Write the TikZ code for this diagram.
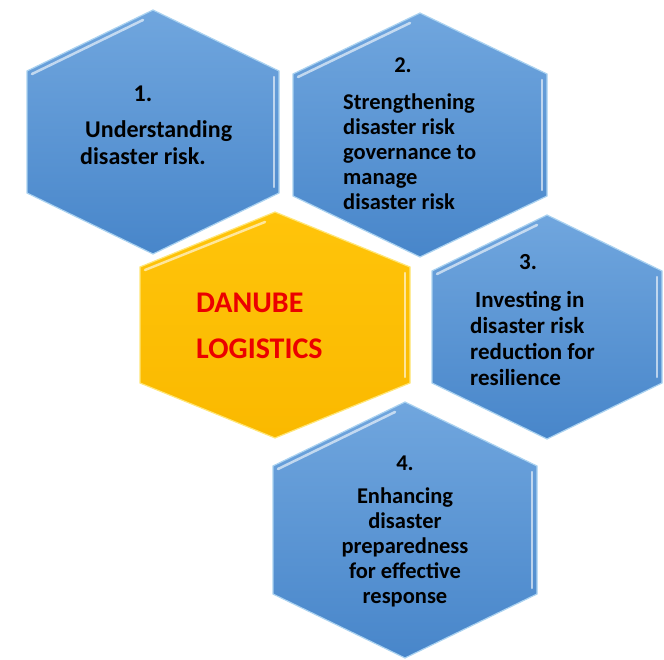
\documentclass[tikz,border=0pt]{standalone}
\usepackage{fontspec}
\setmainfont{Carlito}

\definecolor{cellTop}{RGB}{112,166,222}
\definecolor{cellBot}{RGB}{72,134,202}
\definecolor{cellEdge}{RGB}{170,210,240}
\definecolor{goldTop}{RGB}{255,196,10}
\definecolor{goldBot}{RGB}{250,185,0}
\definecolor{goldEdge}{RGB}{255,230,120}
\definecolor{brandRed}{RGB}{235,0,0}

% hexagon with pointed top: centre x, centre y, half width, half height, corner offset, style
\newcommand{\hexcell}[6]{%
  \draw[#6] (#1-#3,#2-#5) -- (#1,#2-#4) -- (#1+#3,#2-#5) -- (#1+#3,#2+#5)
    -- (#1,#2+#4) -- (#1-#3,#2+#5) -- cycle;
  \draw[shine] (#1-#3+5,#2-#5+3) -- (#1-10,#2-#4+10);
  \draw[shine] (#1+#3-5,#2-#5+6) -- (#1+#3-5,#2+#5-6);
}

\begin{document}
\begin{tikzpicture}[x=1pt,y=-1pt,
    blue cell/.style={top color=cellTop,bottom color=cellBot,draw=cellEdge,line width=1.2pt},
    gold cell/.style={top color=goldTop,bottom color=goldBot,draw=goldEdge,line width=1.2pt},
    shine/.style={draw=white,opacity=.6,line width=2.5pt,line cap=round},
    cell num/.style={font=\bfseries\fontsize{22.5}{25}\selectfont,inner sep=0pt,anchor=base},
    cell text/.style={font=\bfseries\fontsize{22.5}{25}\selectfont,align=left,inner sep=0pt,anchor=base west}]
    \useasboundingbox (0,0) rectangle (664,660);

    % cells
    \hexcell{153}{132}{126}{122}{61}{blue cell}
    \hexcell{420}{135}{127}{122}{61}{blue cell}
    \hexcell{547}{327}{115}{112}{56}{blue cell}
    \hexcell{405}{530}{132}{128}{64}{blue cell}
    \hexcell{275}{325}{135}{113}{58}{gold cell}

    % labels (placed at the baseline of their last line)
    \node[cell num,font=\bfseries\fontsize{24}{27}\selectfont] (num1) at (143,102) {1.};
    \node[cell text,font=\bfseries\fontsize{24}{27}\selectfont] (txt1) at (80,165)
        {\hspace*{5pt}Understanding\\disaster risk.};

    \node[cell num] (num2) at (403,73) {2.};
    \node[cell text] (txt2) at (343,210)
        {Strengthening\\disaster risk\\governance to\\manage\\disaster risk};

    \node[cell num,font=\bfseries\fontsize{23}{26}\selectfont] (num3) at (528,270) {3.};
    \node[cell text,font=\bfseries\fontsize{23}{26}\selectfont] (txt3) at (470,385)
        {\hspace*{5pt}Investing in\\disaster risk\\reduction for\\resilience};

    \node[cell num] (num4) at (405,470) {4.};
    \node[cell text,align=center,anchor=base] (txt4) at (405,603)
        {Enhancing\\disaster\\preparedness\\for effective\\response};

    \node[cell text,text=brandRed,font=\bfseries\fontsize{30}{46}\selectfont] (brand) at (196,358)
        {DANUBE\\LOGISTICS};
\end{tikzpicture}
\end{document}
